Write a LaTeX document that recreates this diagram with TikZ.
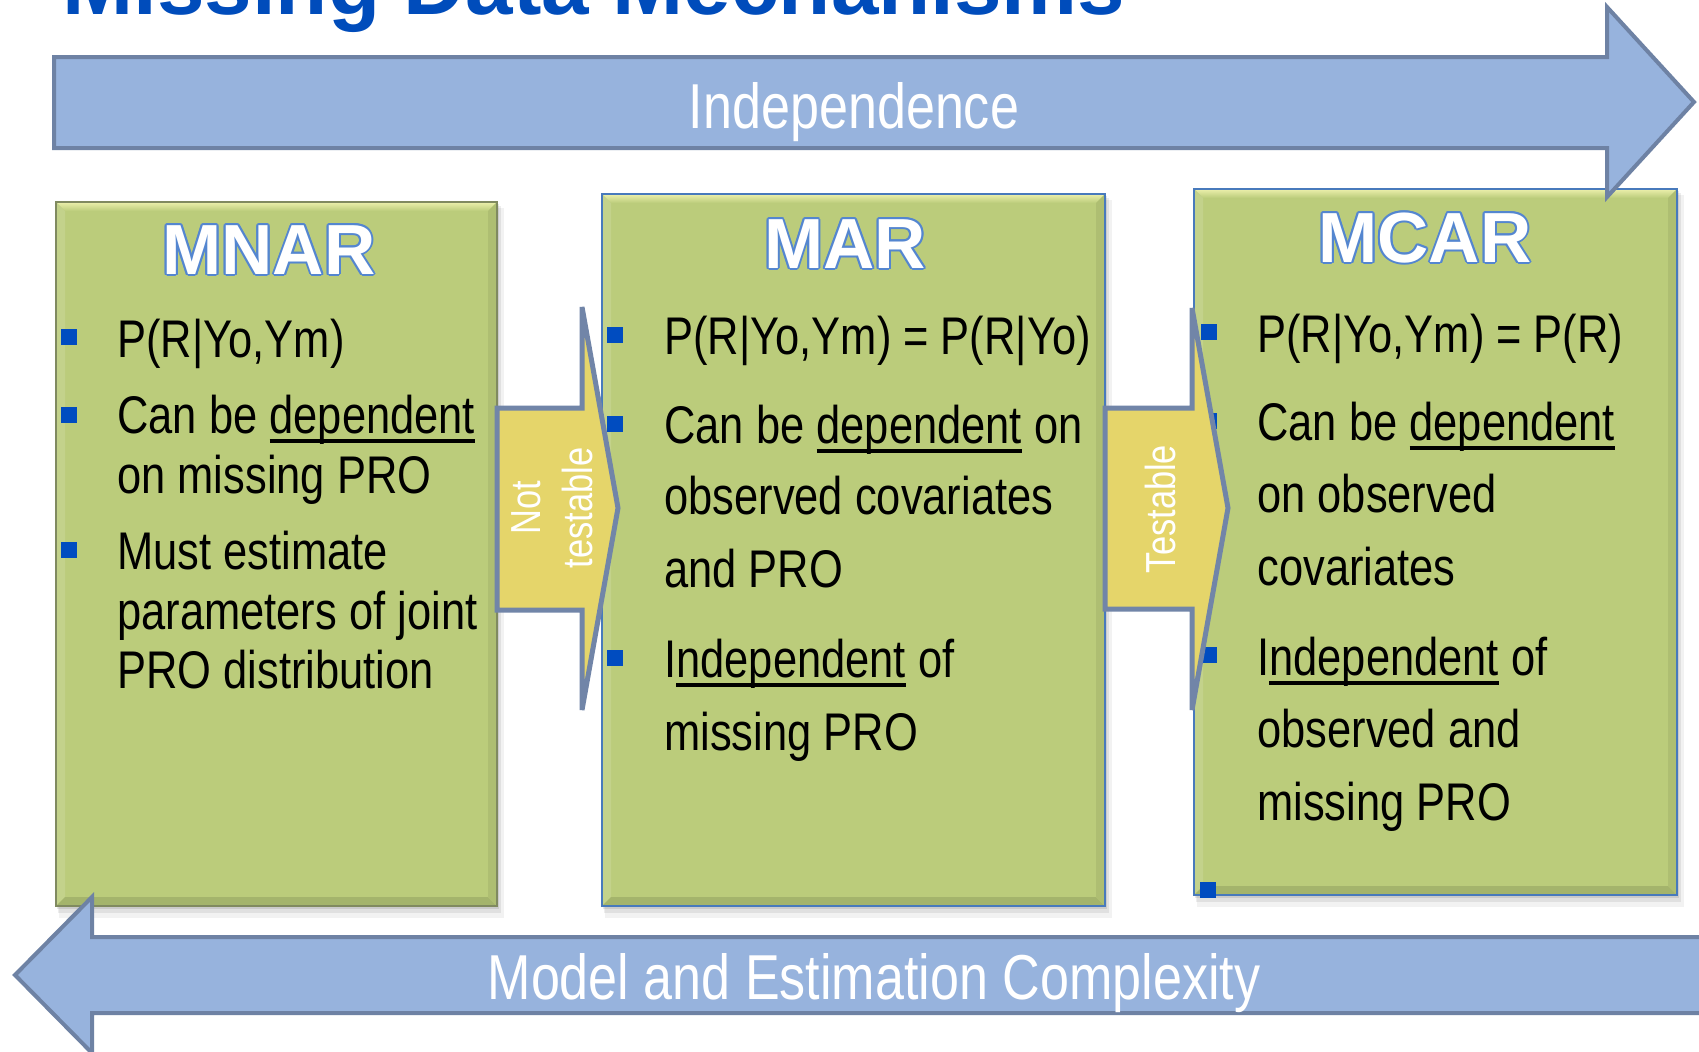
\documentclass[tikz,border=0pt]{standalone}
\usepackage{fontspec}
\setmainfont{Liberation Sans}
\newfontfamily\narrowfont{Liberation Sans}[FakeStretch=0.82]
\usetikzlibrary{calc}

\definecolor{titleblue}{RGB}{0,76,187}
\definecolor{bulletblue}{RGB}{0,76,192}
\definecolor{boxgreen}{RGB}{187,204,123}
\definecolor{bevellight}{RGB}{236,240,172}
\definecolor{boxedge}{RGB}{72,122,188}
\definecolor{oliveedge}{RGB}{128,138,96}
\definecolor{titleedge}{RGB}{84,134,208}
\definecolor{bandfill}{RGB}{151,179,221}
\definecolor{bandedge}{RGB}{110,130,164}
\definecolor{gatefill}{RGB}{229,213,106}
\definecolor{gateedge}{RGB}{113,133,168}

\newsavebox\ulinebox
\newcommand{\uword}[1]{\sbox\ulinebox{#1}\rlap{\rule[-4.8pt]{\wd\ulinebox}{1.8pt}}\usebox\ulinebox}

\tikzset{
  bodytext/.style={anchor=base west, inner sep=0pt, font=\narrowfont\fontsize{26.5pt}{30pt}\selectfont},
  boxtitle/.style={anchor=base, inner sep=0pt, font=\bfseries\fontsize{35.5pt}{40pt}\selectfont},
  bullet/.style={fill=bulletblue, minimum size=7.75pt, inner sep=0pt},
  bandtext/.style={anchor=base, inner sep=0pt, text=white, font=\narrowfont\fontsize{31.75pt}{36pt}\selectfont},
  gatetext/.style={anchor=base, inner sep=0pt, text=white, rotate=90, font=\narrowfont\fontsize{21pt}{24pt}\selectfont},
  bandarrow/.style={fill=bandfill, draw=bandedge, line width=2pt},
  gatearrow/.style={fill=gatefill, draw=gateedge, line width=2.5pt},
}

\begin{document}
\begin{tikzpicture}[x=0.5pt,y=-0.5pt]
\useasboundingbox (0,0) rectangle (1699,1051);
\clip (0,0) rectangle (1699,1051);
\fill[white] (0,0) rectangle (1699,1051);

% bevelled green panels
\foreach \xa/\ya/\xb/\yb/\edge in {56/202/497/906/oliveedge, 602/194/1105/906/boxedge, 1194/189/1677/895/boxedge}{
  \fill[black,opacity=.05] (\xa+3,\ya+6) rectangle (\xb+7,\yb+12);
  \fill[black,opacity=.07] (\xa+2,\ya+4) rectangle (\xb+4,\yb+7);
  \fill[black,opacity=.09] (\xa+1,\ya+2) rectangle (\xb+2,\yb+3);
  \fill[boxgreen] (\xa,\ya) rectangle (\xb,\yb);
  \shade[top color=bevellight, bottom color=boxgreen] (\xa,\ya) -- (\xb,\ya) -- (\xb-9,\ya+9) -- (\xa+9,\ya+9) -- cycle;
  \fill[boxgreen!88!white] (\xa,\ya) -- (\xa+9,\ya+9) -- (\xa+9,\yb-9) -- (\xa,\yb) -- cycle;
  \fill[boxgreen!88!black] (\xa,\yb) -- (\xa+9,\yb-9) -- (\xb-9,\yb-9) -- (\xb,\yb) -- cycle;
  \fill[boxgreen!93!black] (\xb,\ya) -- (\xb-9,\ya+9) -- (\xb-9,\yb-9) -- (\xb,\yb) -- cycle;
  \draw[\edge,line width=1.2pt] (\xa,\ya) rectangle (\xb,\yb);
}

% outlined panel titles
\foreach \tx/\ty/\ttl in {269/274/MNAR, 845/268/MAR, 1425/262/MCAR}{
  \foreach \a in {0,30,...,330}
    \node[boxtitle, text=titleedge] at ($(\tx,\ty)+(\a:1pt)$) {\ttl};
  \node[boxtitle, text=white] (\ttl-title) at (\tx,\ty) {\ttl};
}

% MNAR
\node[bullet] (mnar-b1) at (69,337) {};
\node[bullet] (mnar-b2) at (69,415) {};
\node[bullet] (mnar-b3) at (69,550) {};
\node[bodytext] (mnar-l1) at (117,357) {P(R|Yo,Ym)};
\node[bodytext] (mnar-l2) at (117,433) {Can be \uword{dependent}};
\node[bodytext] (mnar-l3) at (117,493) {on missing PRO};
\node[bodytext] (mnar-l4) at (117,569) {Must estimate};
\node[bodytext] (mnar-l5) at (117,629) {parameters of joint};
\node[bodytext] (mnar-l6) at (117,688) {PRO distribution};

% MAR
\node[bullet] (mar-b1) at (615,335) {};
\node[bullet] (mar-b2) at (615,424) {};
\node[bullet] (mar-b3) at (615,658) {};
\node[bodytext] (mar-l1) at (664,354) {P(R|Yo,Ym) = P(R|Yo)};
\node[bodytext] (mar-l2) at (664,443) {Can be \uword{dependent} on};
\node[bodytext] (mar-l3) at (664,514) {observed covariates};
\node[bodytext] (mar-l4) at (664,587) {and PRO};
\node[bodytext] (mar-l5) at (664,677) {I\uword{ndependent} of};
\node[bodytext] (mar-l6) at (664,750) {missing PRO};

% MCAR
\node[bullet] (mcar-b1) at (1209,332) {};
\node[bullet] (mcar-b2) at (1209,421) {};
\node[bullet] (mcar-b3) at (1209,655) {};
\node[bullet] (mcar-b4) at (1208,890) {};
\node[bodytext] (mcar-l1) at (1257,352) {P(R|Yo,Ym) = P(R)};
\node[bodytext] (mcar-l2) at (1257,440) {Can be \uword{dependent}};
\node[bodytext] (mcar-l3) at (1257,512) {on observed};
\node[bodytext] (mcar-l4) at (1257,585) {covariates};
\node[bodytext] (mcar-l5) at (1257,675) {I\uword{ndependent} of};
\node[bodytext] (mcar-l6) at (1257,747) {observed and};
\node[bodytext] (mcar-l7) at (1257,820) {missing PRO};

% arrows between the panels
\draw[gatearrow] (497,408) -- (582,408) -- (582,307) -- (618,508) -- (582,710) -- (582,610) -- (497,610) -- cycle;
\node[gatetext] (not) at (540,508) {Not};
\node[gatetext] (testable) at (592,508) {testable};
\draw[gatearrow] (1105,408) -- (1192,408) -- (1192,308) -- (1228,508) -- (1192,710) -- (1192,609) -- (1105,609) -- cycle;
\node[gatetext] (testable-b) at (1175,509) {Testable};

% wide arrows above and below
\draw[bandarrow] (54,57) -- (1607,57) -- (1607,7) -- (1694,102) -- (1607,197) -- (1607,148) -- (54,148) -- cycle;
\node[bandtext] (indep) at (854,128) {Independence};
\draw[bandarrow] (1710,937) -- (92,937) -- (92,897) -- (15,975) -- (92,1053) -- (92,1013) -- (1710,1013) -- cycle;
\node[bandtext] (complexity) at (874,999) {Model and Estimation Complexity};

\node[anchor=base west, inner sep=0pt, text=titleblue, font=\bfseries\fontsize{42.7pt}{48pt}\selectfont] (heading) at (62,14) {Missing Data Mechanisms};
\end{tikzpicture}
\end{document}
